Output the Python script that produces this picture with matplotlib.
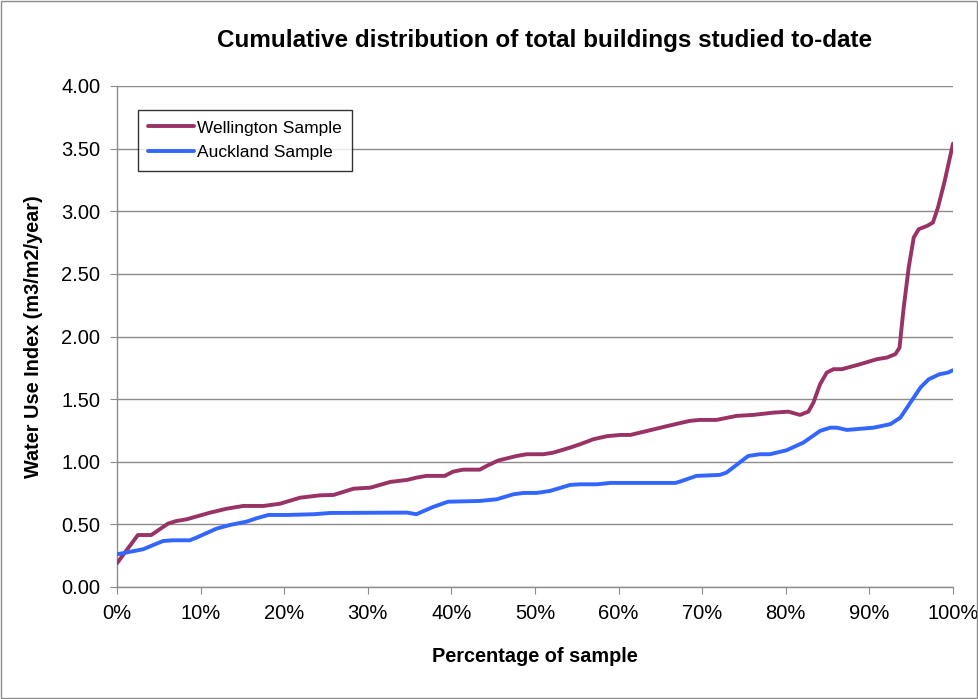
import numpy as np
import matplotlib
matplotlib.use('Agg')
import matplotlib.pyplot as plt
from matplotlib.patches import Rectangle

plt.rcParams['font.family'] = ['Liberation Sans', 'DejaVu Sans']

# Wellington sample (percent of sample, water use index)
well_pct = [0.0, 2.5, 4.1, 6.1, 7.1, 8.3, 11.1, 13.1, 15.1, 17.5, 19.5, 21.9, 24.3,
            25.9, 28.3, 30.3, 32.7, 34.7, 35.8, 37.0, 39.2, 40.2, 41.4, 43.4, 44.2,
            45.6, 47.8, 49.0, 51.0, 52.2, 54.2, 55.4, 57.0, 58.6, 60.2, 61.4, 63.4,
            65.4, 67.1, 68.5, 69.7, 71.7, 74.1, 76.1, 78.5, 80.3, 81.7, 82.7, 83.3,
            84.1, 84.9, 85.7, 86.7, 88.9, 90.9, 92.1, 93.1, 93.6, 94.1, 94.7, 95.3,
            95.9, 96.9, 97.6, 98.2, 99.0, 100.0]
well_wui = [0.19, 0.415, 0.415, 0.506, 0.527, 0.54, 0.593, 0.625, 0.647, 0.647, 0.665,
            0.713, 0.732, 0.735, 0.785, 0.793, 0.839, 0.855, 0.873, 0.887, 0.887, 0.921,
            0.937, 0.937, 0.966, 1.01, 1.046, 1.06, 1.06, 1.073, 1.113, 1.14, 1.18,
            1.204, 1.214, 1.214, 1.246, 1.278, 1.305, 1.326, 1.334, 1.334, 1.366, 1.374,
            1.392, 1.40, 1.374, 1.40, 1.472, 1.619, 1.712, 1.739, 1.739, 1.779, 1.819,
            1.832, 1.859, 1.91, 2.23, 2.55, 2.79, 2.857, 2.883, 2.91, 3.03, 3.24, 3.54]

# Auckland sample
auck_pct = [0.0, 3.1, 5.5, 6.7, 8.7, 9.5, 11.9, 13.5, 15.5, 16.7, 18.1, 20.3, 23.5,
            25.5, 34.7, 35.8, 37.8, 39.6, 43.4, 45.4, 47.4, 48.6, 50.2, 51.8, 54.2,
            55.4, 57.4, 59.0, 66.8, 67.5, 69.3, 72.1, 72.9, 75.5, 76.9, 78.1, 80.1,
            82.1, 84.1, 85.3, 86.1, 87.3, 90.5, 92.5, 93.7, 94.9, 96.1, 97.1, 98.4,
            99.4, 100.0]
auck_wui = [0.261, 0.301, 0.367, 0.373, 0.373, 0.394, 0.466, 0.495, 0.522, 0.549, 0.575,
            0.575, 0.581, 0.591, 0.594, 0.581, 0.639, 0.681, 0.687, 0.70, 0.74, 0.751,
            0.751, 0.767, 0.815, 0.82, 0.82, 0.831, 0.831, 0.845, 0.887, 0.895, 0.913,
            1.046, 1.06, 1.06, 1.092, 1.153, 1.246, 1.272, 1.272, 1.254, 1.272, 1.30,
            1.352, 1.472, 1.592, 1.659, 1.699, 1.712, 1.731]

y_ticks = [0.0, 0.5, 1.0, 1.5, 2.0, 2.5, 3.0, 3.5, 4.0]
x_ticks = [0, 10, 20, 30, 40, 50, 60, 70, 80, 90, 100]

fig = plt.figure(figsize=(9.79, 6.99), dpi=100)
ax = fig.add_axes([117/979, 1 - 587/699, (953-117)/979, (587-86)/699])

# chart area border
fig.patches.append(Rectangle((0.001, 0.001), 0.997, 0.997, transform=fig.transFigure,
                             fill=False, edgecolor='#8c8c8c', linewidth=1))

ax.plot(well_pct, well_wui, color='#993366', lw=2.8, solid_joinstyle='round',
        solid_capstyle='round', label='Wellington Sample', zorder=3)
ax.plot(auck_pct, auck_wui, color='#3366ff', lw=2.8, solid_joinstyle='round',
        solid_capstyle='round', label='Auckland Sample', zorder=3)

ax.set_xlim(0, 100)
ax.set_ylim(0, 4)
ax.set_yticks(y_ticks)
ax.set_yticklabels([f'{v:.2f}' for v in y_ticks])
ax.set_xticks(x_ticks)
ax.set_xticklabels([f'{v}%' for v in x_ticks])
ax.grid(axis='y', color='#8c8c8c', lw=1)
ax.set_axisbelow(True)
for s in ['top', 'right']:
    ax.spines[s].set_visible(False)
for s in ['left', 'bottom']:
    ax.spines[s].set_color('#8c8c8c')
    ax.spines[s].set_linewidth(1)
ax.tick_params(direction='out', length=5, color='#8c8c8c', labelsize=14.5,
               labelcolor='black')
ax.tick_params(axis='y', pad=7)
ax.tick_params(axis='x', pad=7)

ax.set_xlabel('Percentage of sample', fontsize=14.3, fontweight='bold')
ax.set_ylabel('Water Use Index (m3/m2/year)', fontsize=14.3, fontweight='bold')
ax.xaxis.set_label_coords(0.5, (587 - 657) / 501)
ax.yaxis.set_label_coords((34 - 117) / 836, 0.5)
ax.xaxis.label.set_va('center')
ax.yaxis.label.set_va('center')
fig.text(545/979, 1 - 40/699, 'Cumulative distribution of total buildings studied to-date',
         ha='center', va='center', fontsize=17.5, fontweight='bold')

leg = ax.legend(loc='upper left', bbox_to_anchor=(21/836, 1 - 24/501), fontsize=12.5,
                frameon=True, fancybox=False, handlelength=2.6, handletextpad=0.2,
                borderpad=0.6, labelspacing=0.55, borderaxespad=0)
leg.get_frame().set_edgecolor('black')
leg.get_frame().set_linewidth(1)

fig.savefig('out.png', dpi=100)
